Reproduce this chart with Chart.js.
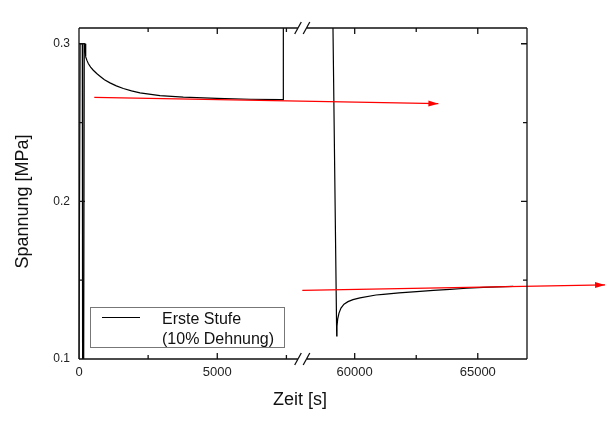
<!DOCTYPE html>
<html>
<head>
<meta charset="utf-8">
<script src="https://cdn.jsdelivr.net/npm/chart.js@4.4.0/dist/chart.umd.min.js"></script>
<style>
  body { margin: 0; background: #fff; }
  #wrap { width: 616px; height: 423px; }
</style>
</head>
<body>
<div id="wrap"><canvas id="chart"></canvas></div>
<script>
// broken time axis: two visible windows, each takes half of the plot width
const xSegments = [[0, 8100], [57900, 67000]];
const xMajorTicks = [0, 5000, 60000, 65000];
const xMinorTicks = [2500, 7500, 62500];
const yMajorTicks = [0.1, 0.2, 0.3];
const yMinorTicks = [0.15, 0.25];

// first step: loading + relaxation, then jump up at the end
const firstTime = [0, 40, 120, 130, 170, 190, 217, 232, 253, 290, 336, 420, 517, 640, 759, 920, 1121, 1350, 1603, 1900, 2206, 2929, 3773, 4980, 6184, 7331, 7389, 7389];
const firstStress = [0.1, 0.3, 0.3, 0.1, 0.1, 0.3, 0.3, 0.2955, 0.2917, 0.2893, 0.2875, 0.2852, 0.2832, 0.2811, 0.2794, 0.2772, 0.2752, 0.2733, 0.2716, 0.2701, 0.2688, 0.2671, 0.2662, 0.2654, 0.2648, 0.2646, 0.2646, 0.36];

// second part: drop and recovery
const secondTime = [59087, 59269, 59281, 59309, 59362, 59443, 59565, 59728, 59931, 60215, 60865, 61162, 61800, 62518, 63200, 63870, 64550, 65223, 65800, 66442];
const secondStress = [0.35, 0.1146, 0.1208, 0.1253, 0.1291, 0.1323, 0.1348, 0.1364, 0.1377, 0.1388, 0.1406, 0.141, 0.1419, 0.1427, 0.1435, 0.1442, 0.1449, 0.1455, 0.1458, 0.1461];

// red trend arrows
const upperArrowTime = [553, 63400];
const upperArrowStress = [0.266, 0.262];
const lowerArrowTime = [8076, 70170];
const lowerArrowStress = [0.1436, 0.147];

const toPoints = (xs, ys) => xs.map((x, i) => ({ x: x, y: ys[i] }));

class BrokenScale extends Chart.LinearScale {
  getPixelForValue(value) {
    const a = xSegments[0], b = xSegments[1];
    let f;
    if (value <= (a[1] + b[0]) / 2) f = (value - a[0]) / (a[1] - a[0]) * 0.5;
    else f = 0.5 + (value - b[0]) / (b[1] - b[0]) * 0.5;
    return this.getPixelForDecimal(f);
  }
  getValueForPixel(pixel) {
    const a = xSegments[0], b = xSegments[1];
    const f = this.getDecimalForPixel(pixel);
    if (f <= 0.5) return a[0] + f / 0.5 * (a[1] - a[0]);
    return b[0] + (f - 0.5) / 0.5 * (b[1] - b[0]);
  }
  buildTicks() {
    super.buildTicks();
    return xMajorTicks.map(v => ({ value: v }));
  }
}
BrokenScale.id = 'broken';
BrokenScale.defaults = Chart.LinearScale.defaults;
Chart.register(BrokenScale);

Chart.defaults.font.family = "'Liberation Sans', Arial, sans-serif";

const framePlugin = {
  id: 'frame',
  afterDraw(chart) {
    const ctx = chart.ctx;
    const xs = chart.scales.x, ys = chart.scales.y;
    const { left, right, top, bottom } = chart.chartArea;
    const brk = xs.getPixelForDecimal(0.5);

    ctx.save();
    ctx.strokeStyle = '#111';
    ctx.lineWidth = 1.3;
    ctx.beginPath();
    ctx.moveTo(left, top); ctx.lineTo(left, bottom);
    ctx.moveTo(right, top); ctx.lineTo(right, bottom);
    [top, bottom].forEach(y => {
      ctx.moveTo(left, y); ctx.lineTo(brk - 5, y);
      ctx.moveTo(brk + 3.5, y); ctx.lineTo(right, y);
      [brk - 5, brk + 3.5].forEach(cx => {
        ctx.moveTo(cx - 3.3, y + 6); ctx.lineTo(cx + 3.3, y - 6);
      });
    });

    // inward ticks
    const xt = (v, len) => {
      const px = xs.getPixelForValue(v);
      ctx.moveTo(px, bottom); ctx.lineTo(px, bottom - len);
      ctx.moveTo(px, top); ctx.lineTo(px, top + len);
    };
    const yt = (v, len) => {
      const py = ys.getPixelForValue(v);
      ctx.moveTo(left, py); ctx.lineTo(left + len, py);
      ctx.moveTo(right, py); ctx.lineTo(right - len, py);
    };
    xMajorTicks.forEach(v => xt(v, 6));
    xMinorTicks.forEach(v => xt(v, 4));
    yMajorTicks.forEach(v => yt(v, 6));
    yMinorTicks.forEach(v => yt(v, 4));
    ctx.stroke();

    // arrow heads on the red trend lines
    ctx.fillStyle = '#ff0000';
    [0, 1].forEach(i => {
      const pts = chart.getDatasetMeta(i).data;
      const p0 = pts[pts.length - 2], p1 = pts[pts.length - 1];
      const ang = Math.atan2(p1.y - p0.y, p1.x - p0.x);
      ctx.save();
      ctx.translate(p1.x, p1.y);
      ctx.rotate(ang);
      ctx.beginPath();
      ctx.moveTo(0, 0);
      ctx.lineTo(-10, -3);
      ctx.lineTo(-10, 3);
      ctx.closePath();
      ctx.fill();
      ctx.restore();
    });

    // axis titles
    ctx.fillStyle = '#111';
    ctx.font = "18px 'Liberation Sans', Arial, sans-serif";
    ctx.textAlign = 'center';
    ctx.textBaseline = 'alphabetic';
    ctx.fillText('Zeit [s]', 300, 404.5);
    ctx.save();
    ctx.translate(27.5, 201.5);
    ctx.rotate(-Math.PI / 2);
    ctx.fillText('Spannung [MPa]', 0, 0);
    ctx.restore();

    // legend box
    ctx.strokeStyle = '#777';
    ctx.lineWidth = 1;
    ctx.strokeRect(90.5, 307.5, 194, 40);
    ctx.strokeStyle = '#000';
    ctx.beginPath();
    ctx.moveTo(102, 317.5); ctx.lineTo(140, 317.5);
    ctx.stroke();
    ctx.font = "16px 'Liberation Sans', Arial, sans-serif";
    ctx.textAlign = 'left';
    ctx.fillText('Erste Stufe', 162, 324);
    ctx.fillText('(10% Dehnung)', 162, 343.5);
    ctx.restore();
  }
};

new Chart(document.getElementById('chart'), {
  type: 'line',
  data: {
    datasets: [
      {
        data: toPoints(upperArrowTime, upperArrowStress),
        borderColor: '#ff0000', borderWidth: 1.3, pointRadius: 0, clip: false, order: 1
      },
      {
        data: toPoints(lowerArrowTime, lowerArrowStress),
        borderColor: '#ff0000', borderWidth: 1.3, pointRadius: 0, clip: false, order: 1
      },
      {
        label: 'Erste Stufe (10% Dehnung)',
        data: toPoints(firstTime, firstStress),
        borderColor: '#000', borderWidth: 1.2, pointRadius: 0, order: 2
      },
      {
        data: toPoints(secondTime, secondStress),
        borderColor: '#000', borderWidth: 1.2, pointRadius: 0, order: 2
      }
    ]
  },
  options: {
    responsive: true,
    maintainAspectRatio: false,
    animation: false,
    devicePixelRatio: 1,
    layout: { padding: { top: 28, right: 89, left: 0, bottom: 0 } },
    plugins: { legend: { display: false }, tooltip: { enabled: false } },
    scales: {
      x: {
        type: 'broken',
        position: 'bottom',
        grid: { display: false, drawTicks: false },
        border: { display: false },
        afterFit: s => { s.height = 64; },
        ticks: {
          autoSkip: false, maxRotation: 0, minRotation: 0,
          padding: 6, color: '#222', font: { size: 13 },
          callback: v => String(v)
        }
      },
      y: {
        type: 'linear',
        min: 0.1,
        max: 0.31,
        grid: { display: false, drawTicks: false },
        border: { display: false },
        afterFit: s => { s.width = 79; },
        afterBuildTicks: s => { s.ticks = yMajorTicks.map(v => ({ value: v })); },
        ticks: {
          padding: 9, color: '#222', font: { size: 12 },
          callback: v => v.toFixed(1)
        }
      }
    }
  },
  plugins: [framePlugin]
});
</script>
</body>
</html>
